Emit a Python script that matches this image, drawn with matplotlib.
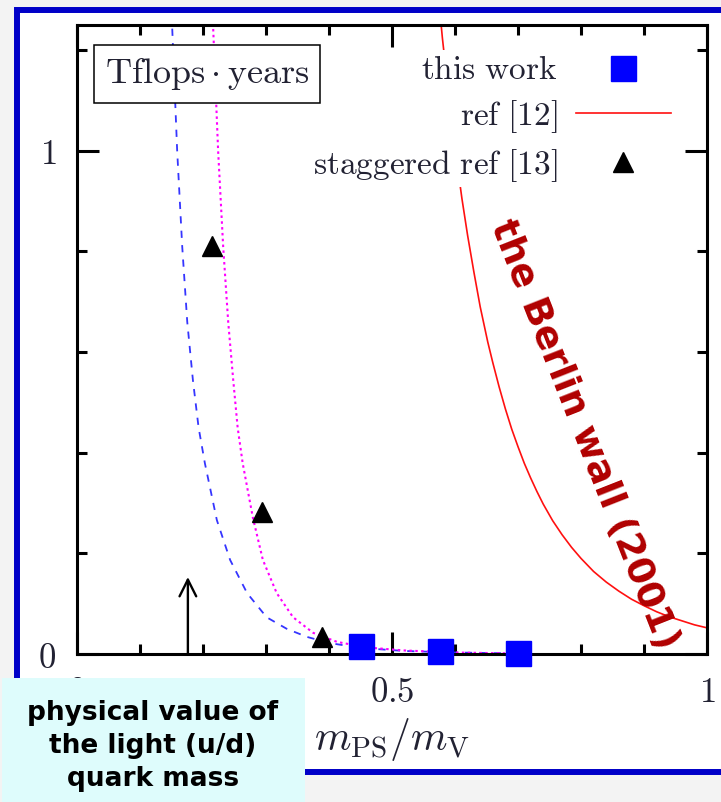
import matplotlib
matplotlib.use("Agg")
import matplotlib.pyplot as plt
from matplotlib.patches import Rectangle

plt.rcParams['mathtext.fontset'] = 'cm'

# === Data ===
this_work_x = [0.451, 0.576, 0.700]
this_work_y = [0.016, 0.006, 0.001]

stag_x = [0.214, 0.294, 0.389]
stag_y = [0.810, 0.282, 0.034]

ref12_x = [0.575, 0.58, 0.59, 0.60, 0.611, 0.62, 0.63, 0.64, 0.652, 0.66, 0.67, 0.68, 0.69,
           0.70, 0.71, 0.72, 0.73, 0.74, 0.755, 0.77, 0.785, 0.80, 0.82, 0.84, 0.86, 0.88,
           0.90, 0.92, 0.94, 0.96, 0.98, 1.00]
ref12_y = [1.29, 1.224, 1.11, 1.006, 0.905, 0.832, 0.759, 0.69, 0.62, 0.579, 0.531, 0.487, 0.447,
           0.412, 0.379, 0.350, 0.323, 0.298, 0.265, 0.237, 0.212, 0.190, 0.164, 0.143, 0.125, 0.109,
           0.096, 0.084, 0.074, 0.066, 0.058, 0.052]

fit_blue_x = [0.148, 0.151, 0.159, 0.167, 0.175, 0.184, 0.193, 0.203, 0.222, 0.243, 0.270,
              0.301, 0.333, 0.365, 0.40, 0.45, 0.52, 0.60, 0.70]
fit_blue_y = [1.30, 1.248, 1.00, 0.81, 0.66, 0.544, 0.45, 0.379, 0.266, 0.187, 0.121,
              0.073, 0.050, 0.034, 0.022, 0.012, 0.006, 0.003, 0.001]

fit_mag_x = [0.214, 0.216, 0.224, 0.232, 0.240, 0.248, 0.255, 0.263, 0.279, 0.295, 0.317,
             0.343, 0.375, 0.413, 0.46, 0.52, 0.60, 0.70]
fit_mag_y = [1.30, 1.248, 1.00, 0.81, 0.66, 0.544, 0.45, 0.379, 0.272, 0.187, 0.121,
             0.073, 0.042, 0.024, 0.013, 0.007, 0.003, 0.001]

phys_x = 0.176
phys_arrow_top = 0.153

# === Figure ===
fig = plt.figure(figsize=(7.21, 8.02), dpi=100, facecolor='#f3f3f3')
W, H = 721, 802

# slide frame (behind everything)
fig.patches.append(Rectangle((17 / W, (H - 772) / H), 720 / W, 762 / H,
                             transform=fig.transFigure, facecolor='white',
                             edgecolor='#0000c8', linewidth=4.3, zorder=-10))

ax = fig.add_axes([77 / W, (H - 654) / H, 630 / W, 629 / H])
ax.set_xlim(0, 1)
ax.set_ylim(0, 1.25)

blue, = ax.plot(fit_blue_x, fit_blue_y, color='#3535ff', lw=1.3, dashes=(4, 4))
mag, = ax.plot(fit_mag_x, fit_mag_y, color='#ff00ff', lw=1.5, dashes=(1.2, 1.6))
red, = ax.plot(ref12_x, ref12_y, color='#ff1010', lw=1.2, label=r'$\mathrm{ref\ [12]}$')

sq, = ax.plot(this_work_x, this_work_y, 's', color='#0000ff', ms=18, mec='#0000ff',
              clip_on=False, zorder=5, label=r'$\mathrm{this\ work}$')
tri, = ax.plot(stag_x, stag_y, '^', color='black', ms=15, clip_on=False, zorder=6,
               label=r'$\mathrm{staggered\ ref\ [13]}$')

ax.annotate('', xy=(phys_x, phys_arrow_top), xytext=(phys_x, 0),
            arrowprops=dict(arrowstyle='->', lw=1.7, color='black',
                            mutation_scale=30, shrinkA=0, shrinkB=0))

# axes styling
for s in ax.spines.values():
    s.set_linewidth(2.2)
ax.set_xticks([0, 0.5, 1])
ax.set_xticklabels(['$0$', '$0.5$', '$1$'])
ax.set_xticks([0.1, 0.2, 0.3, 0.4, 0.6, 0.7, 0.8, 0.9], minor=True)
ax.set_yticks([0, 1])
ax.set_yticklabels(['$0$', '$1$'])
ax.set_yticks([0.2, 0.4, 0.6, 0.8, 1.2], minor=True)
ax.tick_params(which='both', direction='in', top=True, right=True, width=2.2,
               labelsize=25, labelcolor='#222233')
ax.tick_params(which='major', length=16)
ax.tick_params(which='minor', length=7.5)
ax.tick_params(axis='x', pad=15)
ax.tick_params(axis='y', pad=15)
ax.set_xlabel(r'$m_{\rm PS}/m_{\rm V}$', fontsize=30, labelpad=5, color='#222233')

leg = ax.legend(handles=[sq, red, tri], loc='upper right',
                bbox_to_anchor=((674 - 77) / 630, (654 - 50) / 629),
                markerfirst=False, fontsize=24, frameon=True, fancybox=False,
                edgecolor='none', facecolor='white', framealpha=1,
                handlelength=2.85, handletextpad=0.55, labelspacing=0.35,
                borderpad=0.1, borderaxespad=0)
for t in leg.get_texts():
    t.set_color('#222233')
leg.set_zorder(4)

ax.text((207 - 77) / 630, (654 - 74) / 629, r'$\mathrm{Tflops}\cdot\mathrm{years}$',
        transform=ax.transAxes, ha='center', va='center', fontsize=26, color='#222233',
        bbox=dict(boxstyle='square,pad=0.3', facecolor='white', edgecolor='black', lw=1.1),
        zorder=7)

ax.text(0.805, 0.435 / 1.25, 'the Berlin wall (2001)', transform=ax.transAxes,
        rotation=-68.5, rotation_mode='anchor', ha='center', va='center',
        fontsize=27, fontweight='bold', color='#b00000', family='DejaVu Sans', zorder=8)

# note box at the bottom left
fig.patches.append(Rectangle((2 / W, 0), 303 / W, 124 / H, transform=fig.transFigure,
                             facecolor='#defcfc', edgecolor='none', zorder=10))
fig.text(153 / W, (H - 746) / H, 'physical value of\nthe light (u/d)\nquark mass',
         ha='center', va='center', fontsize=19, fontweight='bold',
         family='DejaVu Sans', linespacing=1.35, zorder=11)

plt.savefig('out.png', dpi=100, facecolor=fig.get_facecolor())
